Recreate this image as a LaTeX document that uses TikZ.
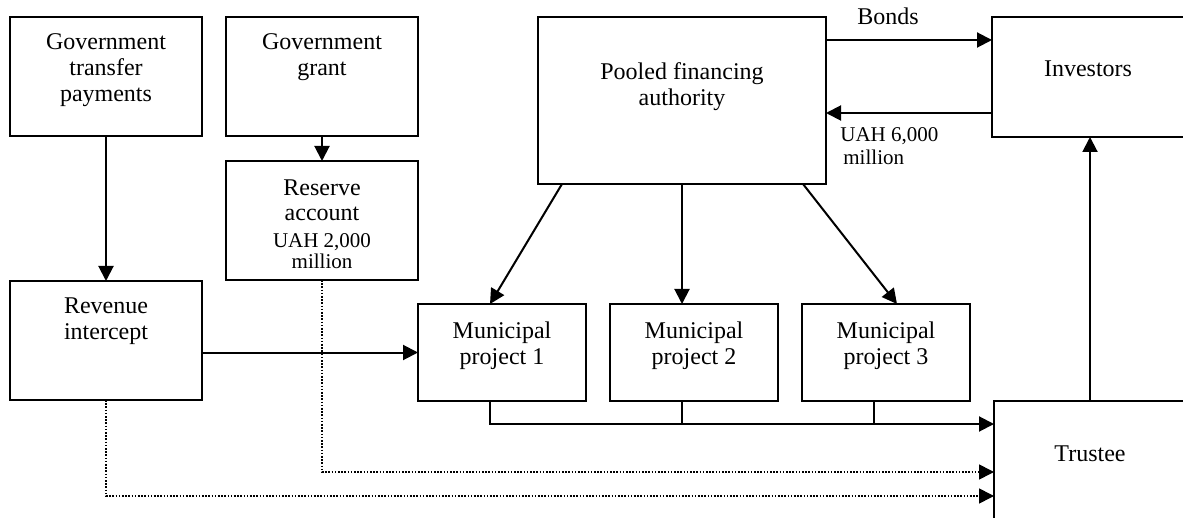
\documentclass[tikz,border=0pt]{standalone}
\usepackage{fontspec}
\setmainfont{Liberation Serif}
\usetikzlibrary{arrows.meta,calc}
\begin{document}
\begin{tikzpicture}[x=0.5pt,y=-0.5pt,
  box/.style={draw, line width=1pt, inner sep=0, outer sep=0},
  txt/.style={inner sep=0, align=center, font=\fontsize{12}{13}\selectfont},
  smalltxt/.style={inner sep=0, align=center, font=\fontsize{10.5}{10.5}\selectfont},
  lbl/.style={inner sep=0, align=left, font=\fontsize{10.5}{11.5}\selectfont},
  arr/.style={line width=1pt, -{Triangle[length=7.5pt,width=7.5pt]}},
  conn/.style={line width=1pt},
  dotarr/.style={line width=0.8pt, dash pattern=on 0.8pt off 0.8pt, -{Triangle[length=7.5pt,width=7.5pt]}}
]
\clip (0,0) rectangle (1183,518);
\fill[white] (0,0) rectangle (1183,518);

% boxes
\node[box, minimum width=96pt, minimum height=59.5pt] (gtp) at (106,76.5) {};
\node[box, minimum width=96pt, minimum height=59.5pt] (gg)  at (322,76.5) {};
\node[box, minimum width=96pt, minimum height=59.5pt] (res) at (322,220.5) {};
\node[box, minimum width=96pt, minimum height=59.5pt] (rev) at (106,340.5) {};
\node[box, minimum width=144pt, minimum height=83.5pt] (pfa) at (682,100.5) {};
\node[box, minimum width=98pt, minimum height=60pt] (inv) at (1090,77) {};
\node[box, minimum width=84pt, minimum height=48.5pt] (mp1) at (502,352.5) {};
\node[box, minimum width=84pt, minimum height=48.5pt] (mp2) at (694,352.5) {};
\node[box, minimum width=84pt, minimum height=48.5pt] (mp3) at (886,352.5) {};
\node[box, minimum width=100pt, minimum height=69.5pt] (tru) at (1094,470.5) {};

% texts (anchor=base is the baseline of the last line)
\node[txt, anchor=base] (tgtp) at (106,102) {Government\\transfer\\payments};
\node[txt, anchor=base] (tgg) at (322,76) {Government\\grant};
\node[txt, anchor=base] (tres) at (322,221) {Reserve\\account};
\node[smalltxt, anchor=base] (tres2) at (322,269) {UAH 2,000\\million};
\node[txt, anchor=base] (trev) at (106,339) {Revenue\\intercept};
\node[txt, anchor=base] (tpfa) at (682,106) {Pooled financing\\authority};
\node[txt, anchor=base] (tinv) at (1088,77) {Investors};
\node[txt, anchor=base] (tmp1) at (502,364) {Municipal\\project 1};
\node[txt, anchor=base] (tmp2) at (694,364) {Municipal\\project 2};
\node[txt, anchor=base] (tmp3) at (886,364) {Municipal\\project 3};
\node[txt, anchor=base] (ttru) at (1090,461) {Trustee};
\node[txt, anchor=base] (tbonds) at (888,25) {Bonds};
\node[lbl, anchor=base west] (tuah) at (840,165) {UAH 6,000\\\hspace*{1.5pt}million};

% connectors
\draw[arr] (gtp.south) -- (rev.north);
\draw[arr] (gg.south) -- (res.north);
\draw[arr] (rev.east |- mp1.west) -- (mp1.west);
\draw[arr] ($(pfa.south west)+(24,0)$) -- ($(mp1.north west)+(72,0)$);
\draw[arr] (pfa.south) -- (pfa.south |- mp2.north);
\draw[arr] ($(pfa.south east)+(-23,0)$) -- ($(mp3.north west)+(95,0)$);
\draw[arr] ($(pfa.north east)+(0,23)$) -- ($(inv.north west)+(0,23)$);
\draw[arr] ($(inv.north west)+(0,96)$) -- ($(pfa.north east)+(0,96)$);
\draw[arr] (inv.south |- tru.north) -- (inv.south);

\coordinate (j) at ($(tru.north west)+(0,23)$);
\draw[arr] ($(mp1.south west)+(72,0)$) |- (j);
\draw[conn] (pfa.south |- mp2.south) -- (pfa.south |- j);
\draw[conn] ($(mp3.south west)+(72,0)$) -- ($(mp3.south west)+(72,23)$);

\draw[dotarr] (res.south) |- ($(tru.north west)+(0,71)$);
\draw[dotarr] (rev.south) |- ($(tru.north west)+(0,95)$);
\end{tikzpicture}
\end{document}
